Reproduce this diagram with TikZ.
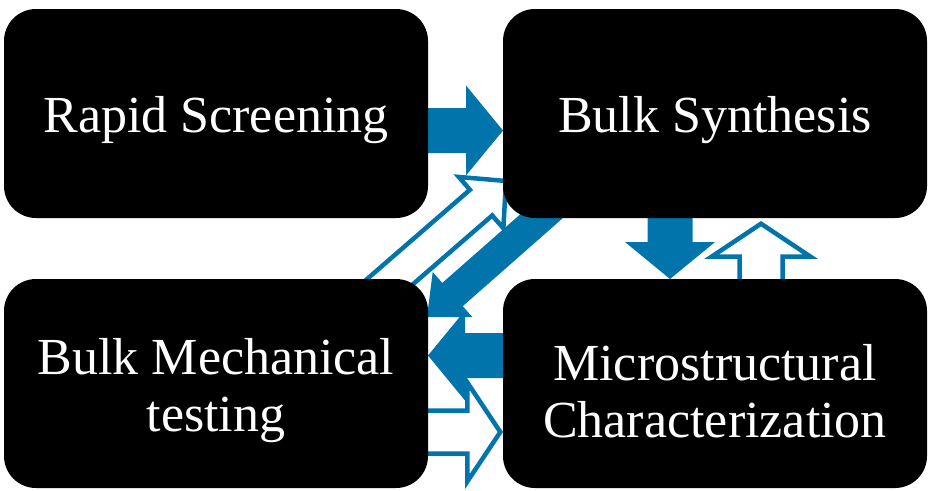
\documentclass[tikz,border=0pt]{standalone}
\usepackage{fontspec}
\setmainfont{Liberation Serif}
\usetikzlibrary{positioning,calc,backgrounds}
\definecolor{arrblue}{RGB}{0,116,171}
\tikzset{
  blackbox/.style={fill=black,rounded corners=0.32cm,minimum width=4.24cm,minimum height=2.09cm,outer sep=0pt,
    text=white,align=center,font=\fontsize{14.8}{16.2}\selectfont},
  solidarr/.style={fill=arrblue},
  hollowarr/.style={draw=arrblue,line width=0.045cm,line join=miter}
}
\newcommand{\kstrut}[1]{\rule{0pt}{#1}}
% #1 style, #2 tail, #3 tip, #4 half shaft, #5 half head, #6 head length
\newcommand{\blockarrow}[6][]{%
\coordinate (hd) at ($(#3)!#6!(#2)$);
\path[#1] ($(#2)!#4!90:(#3)$)--($(hd)!#4!90:(#3)$)--($(hd)!#5!90:(#3)$)--(#3)
  --($(hd)!#5!-90:(#3)$)--($(hd)!#4!-90:(#3)$)--($(#2)!#4!-90:(#3)$)--cycle;}
\begin{document}
\begin{tikzpicture}
\pgfmathsetmacro{\kgapx}{0.75}
\pgfmathsetmacro{\kgapy}{0.61}
\useasboundingbox (0,0) rectangle (9.33,4.90);
\node[blackbox] (rapid) at (2.16,3.765) {\kstrut{0.5cm}Rapid Screening};
\node[blackbox,right=\kgapx cm of rapid] (bulk) {\kstrut{0.5cm}Bulk Synthesis};
\node[blackbox,below=\kgapy cm of rapid] (mech) {\kstrut{0.51cm}Bulk Mechanical\\testing};
\node[blackbox,below=\kgapy cm of bulk] (micro) {\kstrut{0.51cm}Microstructural\\Characterization};
\begin{scope}[on background layer]
\coordinate (rb-tail) at ($(rapid.east)+(-0.5,-0.17)$);
\coordinate (rb-tip) at ($(bulk.west)+(0,-0.17)$);
\coordinate (bm-tail) at ($(bulk.south)+(-0.45,0.4)$);
\coordinate (bm-tip) at ($(micro.north)+(-0.45,0)$);
\coordinate (mm-tail) at ($(micro.west)+(0.5,0.28)$);
\coordinate (mm-tip) at ($(mech.east)+(0,0.28)$);
\coordinate (mb-tail) at ($(micro.north)+(0.46,-0.5)$);
\coordinate (mb-tip) at ($(bulk.south)+(0.46,-0.057)$);
\coordinate (me-tail) at ($(mech.east)+(-0.5,-0.485)$);
\coordinate (me-tip) at ($(micro.west)+(-0.027,-0.485)$);
\coordinate (bd-tail) at ($(bulk.south west)+(0.74,0.33)$);
\coordinate (bd-tip) at ($(mech.north east)+(-0.01,-0.38)$);
\coordinate (md-tail) at ($(mech.north east)+(-0.88,-0.46)$);
\coordinate (md-tip) at ($(bulk.south west)+(0.03,0.37)$);
\foreach \ta/\tb in {rb-tail/rb-tip,bm-tail/bm-tip,mm-tail/mm-tip}{\blockarrow[solidarr]{\ta}{\tb}{0.225cm}{0.45cm}{0.37cm}}
\foreach \ta/\tb in {mb-tail/mb-tip,me-tail/me-tip}{\blockarrow[hollowarr]{\ta}{\tb}{0.215cm}{0.495cm}{0.33cm}}
\blockarrow[solidarr]{bd-tail}{bd-tip}{0.155cm}{0.30cm}{0.34cm}
\blockarrow[hollowarr]{md-tail}{md-tip}{0.17cm}{0.34cm}{0.33cm}
\end{scope}
\end{tikzpicture}
\end{document}
